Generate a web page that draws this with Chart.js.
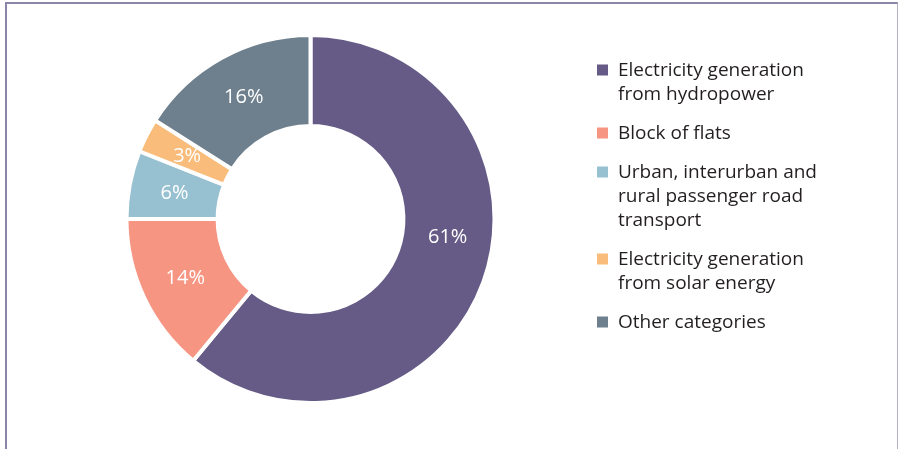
<!DOCTYPE html>
<html>
<head>
<meta charset="utf-8">
<script src="https://cdn.jsdelivr.net/npm/chart.js@4"></script>
<style>
  html, body { margin: 0; padding: 0; background: #ffffff; }
  #wrap { position: relative; width: 898px; height: 449px; overflow: hidden; }
  #frame { position: absolute; left: 5px; top: 2px; width: 890px; height: 460px;
           border-left: 2px solid #8a86a8; border-top: 2px solid #8a86a8; border-right: 1px solid #b3b0c8; }
  #c { position: absolute; left: 0; top: 0; }
</style>
</head>
<body>
<div id="wrap">
  <div id="frame"></div>
  <canvas id="c" width="898" height="449"></canvas>
</div>
<script>
const categories = [
  ["Electricity generation", "from hydropower"],
  ["Block of flats"],
  ["Urban, interurban and", "rural passenger road", "transport"],
  ["Electricity generation", "from solar energy"],
  ["Other categories"]
];
const shares = [61, 14, 6, 3, 16];
const valueLabels = ["61%", "14%", "6%", "3%", "16%"];
const colors = ["#655b86", "#f59582", "#97c1d1", "#f9bc7b", "#6e808e"];
const labelFractions = [0.445, 0.5, 0.5, 0.5, 0.5];

const FONT = '"Open Sans", "Noto Sans", sans-serif';

const sliceLabels = {
  id: 'sliceLabels',
  afterDatasetsDraw(chart) {
    const ctx = chart.ctx;
    const meta = chart.getDatasetMeta(0);
    ctx.save();
    ctx.fillStyle = '#ffffff';
    ctx.font = '20px ' + FONT;
    ctx.textAlign = 'center';
    ctx.textBaseline = 'middle';
    meta.data.forEach((arc, i) => {
      const p = arc.getProps(['x', 'y', 'startAngle', 'endAngle', 'innerRadius', 'outerRadius'], true);
      const a = p.startAngle + (p.endAngle - p.startAngle) * labelFractions[i];
      const r = (p.innerRadius + p.outerRadius) / 2;
      ctx.fillText(valueLabels[i], p.x + Math.cos(a) * r, p.y + Math.sin(a) * r);
    });
    ctx.restore();
  }
};

const sideLegend = {
  id: 'sideLegend',
  afterDraw(chart) {
    const ctx = chart.ctx;
    const ds = chart.data.datasets[0];
    const boxX = 597, textX = 618, box = 11, lh = 24, gap = 15;
    let y = 75.5;
    ctx.save();
    ctx.font = '19px ' + FONT;
    ctx.textBaseline = 'alphabetic';
    ctx.textAlign = 'left';
    chart.data.labels.forEach((lines, i) => {
      ctx.fillStyle = ds.backgroundColor[i];
      ctx.fillRect(boxX, y - box, box, box);
      ctx.fillStyle = '#231f20';
      lines.forEach((t, j) => ctx.fillText(t, textX, y + j * lh));
      y += (lines.length - 1) * lh + lh + gap;
    });
    ctx.restore();
  }
};

new Chart(document.getElementById('c'), {
  type: 'doughnut',
  data: {
    labels: categories,
    datasets: [{
      data: shares,
      backgroundColor: colors,
      borderColor: '#ffffff',
      borderWidth: 4,
      hoverOffset: 0
    }]
  },
  options: {
    responsive: false,
    animation: false,
    radius: 184,
    cutout: '50.5%',
    rotation: 0,
    layout: { padding: { left: 100, right: 377, top: 20, bottom: 31 } },
    plugins: {
      legend: { display: false },
      tooltip: { enabled: false }
    }
  },
  plugins: [sliceLabels, sideLegend]
});
</script>
</body>
</html>
